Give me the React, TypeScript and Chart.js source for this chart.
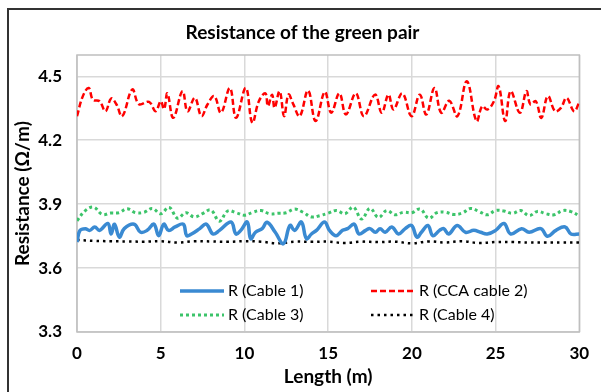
import React, { useEffect, useRef } from "react";
import { Chart, registerables } from "chart.js";

Chart.register(...registerables);

// ---------- data ----------
const xTickValues = [0, 5, 10, 15, 20, 25, 30];
const yTickValues = [3.3, 3.6, 3.9, 4.2, 4.5];

const cable1X = [0, 0.18, 0.5, 0.76, 1.06, 1.35, 1.84, 2.04, 2.24, 2.53, 2.82, 3.41, 3.8, 4.19, 4.59, 4.88, 5.18, 5.47, 5.86, 6.35, 6.55, 6.84, 7.33, 7.72, 8.12, 8.51, 9.2, 9.49, 9.78, 10.17, 10.37, 10.66, 11.06, 11.35, 11.84, 12.33, 12.72, 13.0, 13.4, 13.7, 14.0, 14.3, 14.78, 15.08, 15.47, 15.86, 16.16, 16.55, 16.84, 17.24, 17.5, 17.82, 18.1, 18.4, 18.8, 19.2, 19.6, 19.98, 20.3, 20.57, 20.96, 21.25, 21.65, 21.9, 22.2, 22.7, 23.2, 23.7, 24.1, 24.5, 25.0, 25.5, 25.9, 26.55, 27.0, 27.7, 28.1, 28.6, 29.15, 29.5, 30];
const cable1R = [3.722, 3.777, 3.785, 3.777, 3.793, 3.777, 3.809, 3.76, 3.806, 3.745, 3.785, 3.806, 3.768, 3.777, 3.806, 3.752, 3.806, 3.777, 3.793, 3.806, 3.752, 3.76, 3.785, 3.806, 3.76, 3.777, 3.816, 3.76, 3.777, 3.816, 3.738, 3.768, 3.785, 3.815, 3.768, 3.714, 3.8, 3.777, 3.816, 3.738, 3.76, 3.777, 3.816, 3.777, 3.752, 3.777, 3.785, 3.806, 3.76, 3.777, 3.785, 3.768, 3.785, 3.768, 3.793, 3.76, 3.785, 3.8, 3.745, 3.768, 3.8, 3.752, 3.777, 3.785, 3.76, 3.8, 3.768, 3.777, 3.768, 3.76, 3.777, 3.809, 3.76, 3.785, 3.768, 3.785, 3.749, 3.777, 3.793, 3.76, 3.76];

const cable2X = [0, 0.35, 0.7, 0.95, 1.35, 1.7, 2.04, 2.35, 2.7, 3.3, 3.7, 4.3, 4.7, 5.0, 5.2, 5.4, 5.75, 6.3, 6.6, 7.04, 7.43, 7.8, 8.2, 8.6, 9.13, 9.5, 10.08, 10.47, 10.86, 11.25, 11.4, 11.65, 11.8, 12.1, 12.37, 12.63, 12.92, 13.3, 13.8, 14.25, 14.8, 15.18, 15.67, 16.06, 16.65, 17.13, 17.8, 18.2, 18.6, 18.9, 19.43, 19.98, 20.47, 20.86, 21.35, 21.75, 22.23, 22.72, 23.28, 23.86, 24.2, 24.5, 24.9, 25.18, 25.57, 25.9, 26.45, 26.84, 27.08, 27.4, 27.73, 28.12, 28.55, 28.9, 29.24, 29.69, 30];
const cable2R = [4.313, 4.407, 4.445, 4.39, 4.383, 4.336, 4.396, 4.369, 4.313, 4.438, 4.369, 4.38, 4.336, 4.383, 4.346, 4.42, 4.305, 4.43, 4.336, 4.399, 4.313, 4.369, 4.407, 4.329, 4.445, 4.305, 4.445, 4.282, 4.383, 4.42, 4.36, 4.414, 4.352, 4.43, 4.313, 4.414, 4.368, 4.313, 4.433, 4.29, 4.427, 4.329, 4.42, 4.321, 4.42, 4.313, 4.414, 4.329, 4.414, 4.344, 4.42, 4.313, 4.414, 4.321, 4.445, 4.329, 4.385, 4.313, 4.477, 4.29, 4.36, 4.344, 4.383, 4.453, 4.29, 4.43, 4.329, 4.43, 4.368, 4.383, 4.305, 4.407, 4.336, 4.352, 4.399, 4.336, 4.38];

const cable3X = [0, 0.5, 1.0, 1.5, 2.0, 2.5, 3.0, 3.5, 4.0, 4.5, 5.0, 5.5, 6.0, 6.5, 7.0, 7.5, 8.0, 8.5, 9.0, 9.5, 10.0, 10.5, 11.0, 11.5, 12.0, 12.5, 13.0, 13.5, 14.0, 14.5, 15.0, 15.5, 16.0, 16.5, 17.0, 17.5, 18.0, 18.5, 19.0, 19.5, 20.0, 20.5, 21.0, 21.5, 22.0, 22.5, 23.0, 23.5, 24.0, 24.5, 25.0, 25.5, 26.0, 26.5, 27.0, 27.5, 28.0, 28.5, 29.0, 29.5, 30.0];
const cable3R = [3.822, 3.87, 3.886, 3.852, 3.858, 3.86, 3.878, 3.86, 3.862, 3.88, 3.855, 3.885, 3.834, 3.86, 3.84, 3.856, 3.872, 3.82, 3.868, 3.86, 3.848, 3.862, 3.87, 3.855, 3.857, 3.86, 3.877, 3.862, 3.84, 3.846, 3.858, 3.87, 3.855, 3.886, 3.83, 3.88, 3.838, 3.87, 3.85, 3.862, 3.86, 3.877, 3.834, 3.86, 3.862, 3.852, 3.858, 3.88, 3.866, 3.85, 3.87, 3.868, 3.857, 3.87, 3.846, 3.866, 3.855, 3.85, 3.87, 3.865, 3.845];

const cable4X = [0, 1, 2, 3, 4, 5, 6, 7, 8, 9, 10, 11, 12, 13, 14, 15, 16, 17, 18, 19, 20, 21, 22, 23, 24, 25, 26, 27, 28, 29, 30];
const cable4R = [3.732, 3.728, 3.726, 3.725, 3.724, 3.726, 3.72, 3.726, 3.725, 3.723, 3.726, 3.724, 3.716, 3.724, 3.723, 3.724, 3.718, 3.724, 3.722, 3.724, 3.716, 3.725, 3.72, 3.726, 3.718, 3.722, 3.722, 3.72, 3.72, 3.72, 3.72];

const seriesNames = ["R (Cable 1)", "R (CCA cable 2)", "R (Cable 3)", "R (Cable 4)"];

const FONT = "Lato, 'Liberation Sans', sans-serif";

const toPoints = (xs: number[], ys: number[]) => xs.map((x, i) => ({ x, y: ys[i] }));

const framePlugin = {
  id: "plotFrameAndLegend",
  beforeDatasetsDraw(chart: any) {
    const { ctx, chartArea } = chart;
    ctx.save();
    ctx.strokeStyle = "#bfbfbf";
    ctx.lineWidth = 1.5;
    ctx.strokeRect(chartArea.left, chartArea.top, chartArea.right - chartArea.left, chartArea.bottom - chartArea.top);
    ctx.restore();
  },
  afterDraw(chart: any) {
    const { ctx } = chart;
    const items = [
      { ds: 0, x: 180, y: 291 },
      { ds: 1, x: 371, y: 291 },
      { ds: 2, x: 180, y: 315 },
      { ds: 3, x: 371, y: 315 },
    ];
    ctx.save();
    ctx.font = `16px ${FONT}`;
    ctx.textBaseline = "middle";
    ctx.textAlign = "left";
    for (const it of items) {
      const ds = chart.data.datasets[it.ds];
      ctx.beginPath();
      ctx.strokeStyle = ds.borderColor;
      ctx.lineWidth = ds.borderWidth;
      ctx.setLineDash(ds.borderDash || []);
      ctx.lineCap = "butt";
      ctx.moveTo(it.x, it.y);
      ctx.lineTo(it.x + 44, it.y);
      ctx.stroke();
      ctx.setLineDash([]);
      ctx.fillStyle = "#000";
      ctx.fillText(ds.label, it.x + 48, it.y);
    }
    ctx.restore();
  },
};

export default function App() {
  const ref = useRef<HTMLCanvasElement | null>(null);

  useEffect(() => {
    if (!ref.current) return;
    const chart = new Chart(ref.current, {
      type: "line",
      data: {
        datasets: [
          {
            label: seriesNames[0],
            data: toPoints(cable1X, cable1R),
            borderColor: "#3a8ad2",
            borderWidth: 3.5,
            pointRadius: 0,
            tension: 0.4,
            fill: false,
          },
          {
            label: seriesNames[1],
            data: toPoints(cable2X, cable2R),
            borderColor: "#ff0000",
            borderWidth: 2.5,
            borderDash: [6, 3],
            pointRadius: 0,
            tension: 0.4,
            fill: false,
          },
          {
            label: seriesNames[2],
            data: toPoints(cable3X, cable3R),
            borderColor: "#3cc46a",
            borderWidth: 3,
            borderDash: [3, 3],
            pointRadius: 0,
            tension: 0.4,
            fill: false,
          },
          {
            label: seriesNames[3],
            data: toPoints(cable4X, cable4R),
            borderColor: "#000000",
            borderWidth: 2.5,
            borderDash: [2.5, 4],
            pointRadius: 0,
            tension: 0.4,
            fill: false,
          },
        ],
      },
      options: {
        responsive: false,
        animation: false,
        devicePixelRatio: 1,
        layout: { padding: { left: 17, right: 13, top: 0, bottom: 0 } },
        plugins: {
          legend: { display: false },
          tooltip: { enabled: false },
          title: {
            display: true,
            text: "Resistance of the green pair",
            color: "#000",
            font: { family: FONT, size: 19, weight: "bold" },
            padding: { top: 21.6, bottom: 10.6 },
          },
        },
        scales: {
          x: {
            type: "linear",
            min: 0,
            max: 30,
            afterBuildTicks: (scale: any) => {
              scale.ticks = xTickValues.map((v) => ({ value: v }));
            },
            afterFit: (scale: any) => {
              scale.height = 60;
            },
            grid: { color: "#d9d9d9", lineWidth: 1.5, drawTicks: false },
            border: { display: false },
            ticks: {
              color: "#000",
              font: { family: FONT, size: 17, weight: "bold" },
              padding: 11.8,
              maxRotation: 0,
            },
            title: {
              display: true,
              text: "Length (m)",
              color: "#000",
              font: { family: FONT, size: 19, weight: "bold" },
              padding: { top: 0, bottom: 3.6 },
            },
          },
          y: {
            type: "linear",
            min: 3.3,
            max: 4.6,
            afterBuildTicks: (scale: any) => {
              scale.ticks = yTickValues.map((v) => ({ value: v }));
            },
            afterFit: (scale: any) => {
              scale.width = 60;
            },
            grid: { color: "#d9d9d9", lineWidth: 1.5, drawTicks: false },
            border: { display: false },
            ticks: {
              color: "#000",
              font: { family: FONT, size: 17, weight: "bold" },
              padding: 15,
              callback: (v: any) => Number(v).toFixed(1),
            },
            title: {
              display: true,
              text: "Resistance (Ω/m)",
              color: "#000",
              font: { family: FONT, size: 19, weight: "bold" },
              padding: { top: -5.4, bottom: 0 },
            },
          },
        },
      },
      plugins: [framePlugin],
    });
    return () => chart.destroy();
  }, []);

  return (
    <div style={{ position: "fixed", left: 0, top: 0, width: 601, height: 392, overflow: "hidden", background: "#fff" }}>
      <div
        style={{
          position: "absolute",
          left: 7,
          top: 8,
          width: 700,
          height: 500,
          borderLeft: "2px solid #333",
          borderTop: "2px solid #333",
        }}
      />
      <canvas ref={ref} width={601} height={392} style={{ position: "absolute", left: 0, top: 0, display: "block" }} />
    </div>
  );
}
